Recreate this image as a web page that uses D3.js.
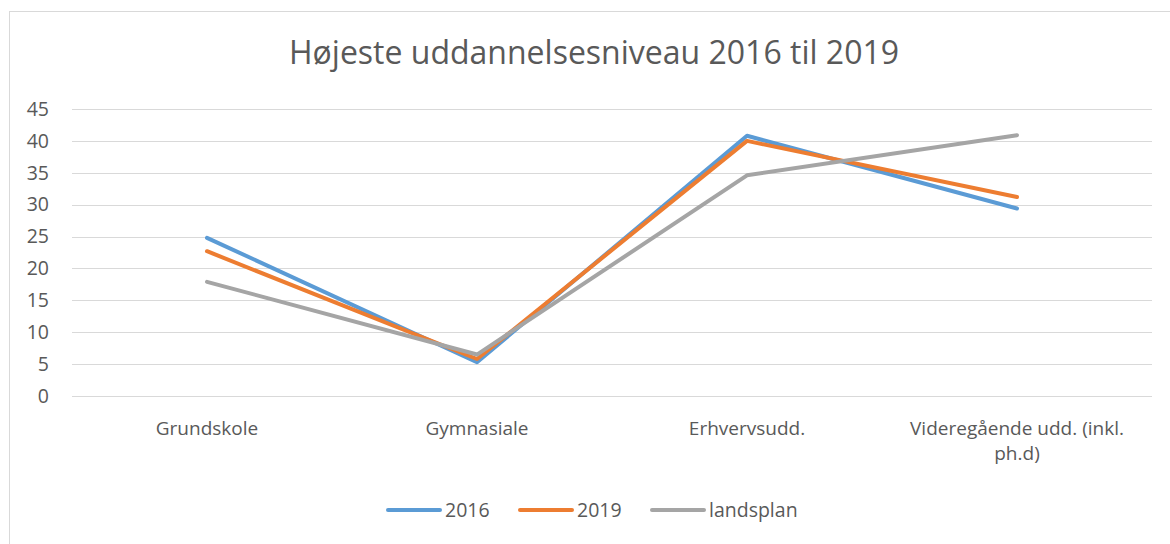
<!DOCTYPE html>
<html>
<head>
<meta charset="utf-8">
<script src="https://cdn.jsdelivr.net/npm/d3@7"></script>
<style>
  body { margin: 0; background: #fff; }
  text { font-family: "Open Sans", "Noto Sans", sans-serif; fill: #595959; }
</style>
</head>
<body>
<svg></svg>
<script>
const width = 1170;
const height = 544;

// data
const categories = ["Grundskole", "Gymnasiale", "Erhvervsudd.", "Videregående udd. (inkl. ph.d)"];
const seriesNames = ["2016", "2019", "landsplan"];
const values2016 = [24.8, 5.3, 40.8, 29.4];
const values2019 = [22.7, 5.8, 40.0, 31.2];
const valuesLandsplan = [17.9, 6.5, 34.6, 40.9];
const yTicks = [0, 5, 10, 15, 20, 25, 30, 35, 40, 45];
const colors = ["#5B9BD5", "#ED7D31", "#A5A5A5"];

const series = [values2016, values2019, valuesLandsplan].map((v, i) => ({
    name: seriesNames[i], values: v, color: colors[i]
}));

const margin = {top: 109, right: 18, bottom: 148, left: 72};

const svg = d3.select('svg')
    .attr('width', width).attr('height', height);

// chart frame
svg.append('rect')
    .attr('x', 9.5).attr('y', 11.5)
    .attr('width', width + 20).attr('height', height + 20)
    .attr('fill', 'none')
    .attr('stroke', '#d9d9d9');

const x = d3.scaleBand()
    .domain(categories)
    .range([margin.left, width - margin.right]);

const y = d3.scaleLinear()
    .domain([0, 45])
    .range([height - margin.bottom, margin.top]);

// gridlines
svg.append('g')
    .selectAll('line')
    .data(yTicks)
    .enter().append('line')
    .attr('x1', margin.left).attr('x2', width - margin.right)
    .attr('y1', d => Math.round(y(d)) + 0.5).attr('y2', d => Math.round(y(d)) + 0.5)
    .attr('stroke', '#d9d9d9')
    .attr('stroke-width', 1);

// y axis labels
const yAxis = svg.append('g')
    .attr('transform', `translate(${margin.left - 23},0)`)
    .call(d3.axisLeft(y).tickValues(yTicks).tickSize(0).tickPadding(0));
yAxis.select('.domain').remove();
yAxis.selectAll('text')
    .style('font-size', '19.5px')
    .style('font-family', '"Open Sans", sans-serif')
    .attr('fill', '#595959');

// x axis labels
const xAxis = svg.append('g')
    .attr('transform', `translate(0,${height - margin.bottom})`)
    .call(d3.axisBottom(x).tickSize(0).tickPadding(0));
xAxis.select('.domain').remove();
xAxis.selectAll('text').remove();
xAxis.selectAll('.tick')
    .append('text')
    .attr('text-anchor', 'middle')
    .style('font-size', '19px')
    .attr('fill', '#595959')
    .each(function (d) {
        const lines = d.startsWith('Videregående') ? ['Videregående udd. (inkl.', 'ph.d)'] : [d];
        d3.select(this).selectAll('tspan')
            .data(lines)
            .enter().append('tspan')
            .attr('x', 0)
            .attr('y', (l, i) => 39 + i * 25)
            .text(l => l);
    });

// lines
const line = d3.line()
    .x((d, i) => x(categories[i]) + x.bandwidth() / 2)
    .y(d => y(d));

svg.append('g')
    .selectAll('path')
    .data(series)
    .enter().append('path')
    .attr('d', d => line(d.values))
    .attr('fill', 'none')
    .attr('stroke', d => d.color)
    .attr('stroke-width', 4)
    .attr('stroke-linejoin', 'round')
    .attr('stroke-linecap', 'round');

// title
svg.append('text')
    .attr('x', 594).attr('y', 64)
    .attr('text-anchor', 'middle')
    .style('font-size', '32px')
    .text('Højeste uddannelsesniveau 2016 til 2019');

// legend
const legendX = [388, 520, 652];
const legend = svg.append('g')
    .selectAll('g')
    .data(series)
    .enter().append('g')
    .attr('transform', (d, i) => `translate(${legendX[i]},510)`);
legend.append('line')
    .attr('x1', 0).attr('x2', 52)
    .attr('stroke', d => d.color)
    .attr('stroke-width', 4)
    .attr('stroke-linecap', 'round');
legend.append('text')
    .attr('x', 57).attr('y', 7)
    .style('font-size', '19.5px')
    .text(d => d.name);
</script>
</body>
</html>
